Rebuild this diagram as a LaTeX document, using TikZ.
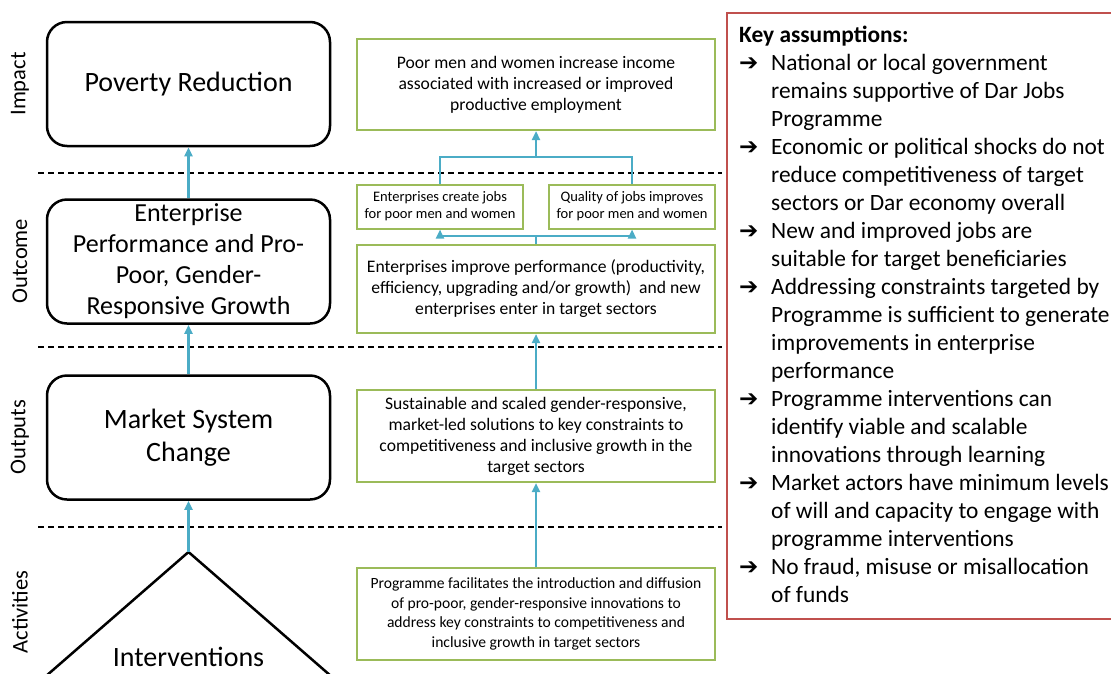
\documentclass[tikz,border=0pt]{standalone}
\usepackage{fontspec}
\setmainfont{Carlito}
\newfontfamily\symfont{DejaVu Sans}
\usetikzlibrary{arrows.meta}
\definecolor{boxgreen}{HTML}{9BBB59}
\definecolor{flowblue}{HTML}{4BACC6}
\definecolor{keyred}{HTML}{C0504D}
\newcommand{\ka}{\makebox[32pt][l]{\symfont\bfseries\fontsize{23}{28}\selectfont ➔}}
\newcommand{\kb}{\hspace*{32pt}}

\begin{document}
\begin{tikzpicture}[x=1pt, y=-1pt,
    goal/.style = {draw, line width=2.5pt, rounded corners=20pt, minimum width=283pt, minimum height=124pt, align=center, font=\fontsize{28}{33}\selectfont},
    res/.style = {draw=boxgreen, line width=2pt, minimum width=358pt, align=center, font=\fontsize{17.6}{21}\selectfont},
    small/.style = {res, minimum width=166pt, minimum height=44pt, font=\fontsize{14.5}{17}\selectfont},
    stage/.style = {rotate=90, font=\fontsize{22.5}{26}\selectfont},
    link/.style = {draw=flowblue, line width=2.5pt},
    flow/.style = {link, -{Triangle[length=9pt, width=8pt]}},
    sep/.style = {dashed, line width=1.2pt, dash pattern=on 6pt off 4pt}]
	\clip (0,0) rectangle (1111,673);
	% stage labels
	\node[stage] (s1) at (20,84) {Impact};
	\node[stage] (s2) at (20,261) {Outcome};
	\node[stage] (s3) at (20,437) {Outputs};
	\node[stage] (s4) at (20,612) {Activities};
	\draw[sep] (38,173) -- (722,173);
	\draw[sep] (38,347) -- (722,347);
	\draw[sep] (38,527) -- (722,527);
	% left column
	\node[goal] (pov) at (188.5,84) {Poverty Reduction};
	\node[goal, font=\fontsize{26}{31}\selectfont] (ent) at (188.5,261.5) {Enterprise\\Performance and Pro-\\Poor, Gender-\\Responsive Growth};
	\node[goal] (msc) at (188.5,437.5) {Market System\\Change};
	\coordinate (tri) at (188.5,552);
	\draw[line width=2.5pt] (18.5,700) -- (tri) -- (358.5,700);
	\node[font=\fontsize{28}{33}\selectfont] (int) at (188.5,657) {Interventions};
	\draw[flow] (tri) -- (msc);
	\draw[flow] (msc) -- (ent);
	\draw[flow] (ent) -- (pov);
	% right column
	\node[res, minimum height=91pt] (inc) at (536,84.5) {Poor men and women increase income\\associated with increased or improved\\productive employment};
	\node[small] (jobs) at (440,206.5) {Enterprises create jobs\\for poor men and women};
	\node[small] (qual) at (632,206.5) {Quality of jobs improves\\for poor men and women};
	\node[res, minimum height=88pt] (perf) at (536,289) {Enterprises improve performance (productivity,\\efficiency, upgrading and/or growth)\ \ and new\\enterprises enter in target sectors};
	\node[res, minimum height=92pt] (sol) at (536,436) {Sustainable and scaled gender-responsive,\\market-led solutions to key constraints to\\competitiveness and inclusive growth in the\\target sectors};
	\node[res, minimum height=92pt, font=\fontsize{15.6}{19.5}\selectfont] (fac) at (536,614) {Programme facilitates the introduction and diffusion\\of pro-poor, gender-responsive innovations to\\address key constraints to competitiveness and\\inclusive growth in target sectors};
	\coordinate (topj) at (536,157);
	\coordinate (botj) at (536,236);
	\draw[link] (jobs.north) |- (topj) -| (qual.north);
	\draw[flow] (topj) -- (inc.south);
	\draw[link] (perf.north) -- (botj);
	\draw[flow] (botj) -| (jobs.south);
	\draw[flow] (botj) -| (qual.south);
	\draw[flow] (sol) -- (perf);
	\draw[flow] (fac) -- (sol);
	% key assumptions
	\draw[draw=keyred, line width=2pt] (727,13) rectangle (1118,619);
	\node[anchor=north west, align=left, inner sep=0pt, font=\fontsize{23.4}{28}\selectfont] (key) at (739,26) {\textbf{Key assumptions:}\\
	\ka National or local government\\
	\kb remains supportive of Dar Jobs\\
	\kb Programme\\
	\ka Economic or political shocks do not\\
	\kb reduce competitiveness of target\\
	\kb sectors or Dar economy overall\\
	\ka New and improved jobs are\\
	\kb suitable for target beneficiaries\\
	\ka Addressing constraints targeted by\\
	\kb Programme is sufficient to generate\\
	\kb improvements in enterprise\\
	\kb performance\\
	\ka Programme interventions can\\
	\kb identify viable and scalable\\
	\kb innovations through learning\\
	\ka Market actors have minimum levels\\
	\kb of will and capacity to engage with\\
	\kb programme interventions\\
	\ka No fraud, misuse or misallocation\\
	\kb of funds};
\end{tikzpicture}
\end{document}
